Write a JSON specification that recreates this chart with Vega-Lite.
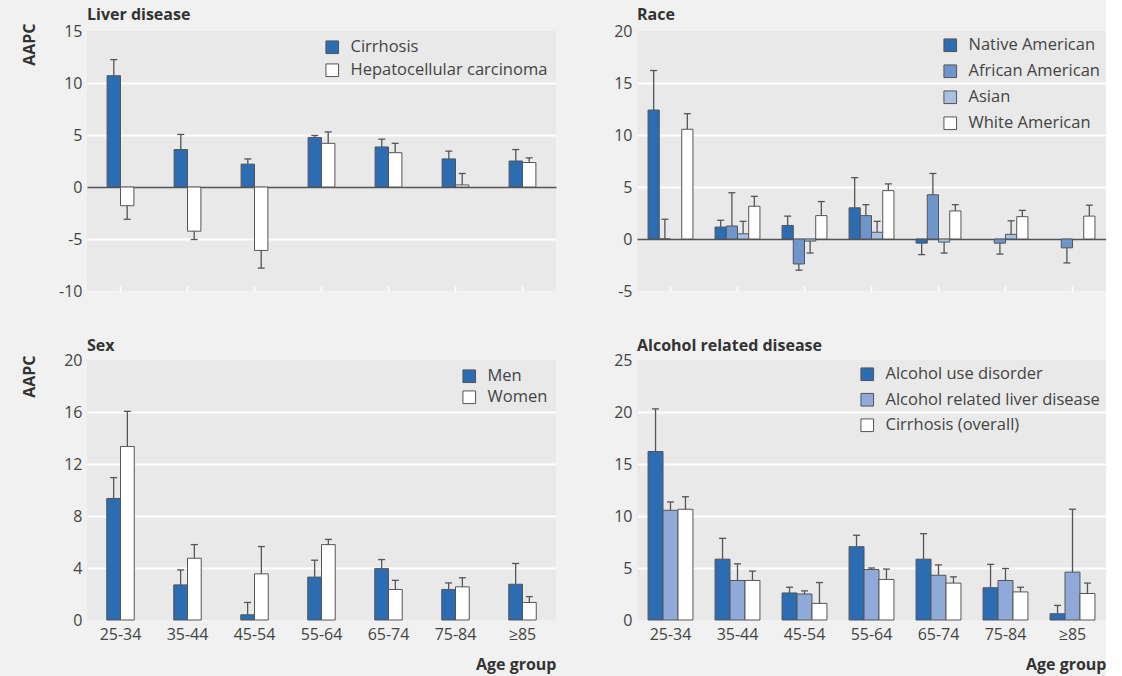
{
  "$schema": "https://vega.github.io/schema/vega-lite/v6.json",
  "padding": {"left": 21, "top": 7, "right": 0, "bottom": 4},
  "background": "#f1f1f1",
  "datasets": {
    "liver": [
      {"age": "25-34", "series": "Cirrhosis", "value": 10.7, "err": 12.25},
      {"age": "35-44", "series": "Cirrhosis", "value": 3.6, "err": 5.05},
      {"age": "45-54", "series": "Cirrhosis", "value": 2.2, "err": 2.7},
      {"age": "55-64", "series": "Cirrhosis", "value": 4.75, "err": 4.95},
      {"age": "65-74", "series": "Cirrhosis", "value": 3.85, "err": 4.6},
      {"age": "75-84", "series": "Cirrhosis", "value": 2.7, "err": 3.45},
      {"age": "≥85", "series": "Cirrhosis", "value": 2.5, "err": 3.6},
      {"age": "25-34", "series": "Hepatocellular carcinoma", "value": -1.8, "err": -3.1},
      {"age": "35-44", "series": "Hepatocellular carcinoma", "value": -4.25, "err": -5.05},
      {"age": "45-54", "series": "Hepatocellular carcinoma", "value": -6.1, "err": -7.8},
      {"age": "55-64", "series": "Hepatocellular carcinoma", "value": 4.2, "err": 5.3},
      {"age": "65-74", "series": "Hepatocellular carcinoma", "value": 3.3, "err": 4.2},
      {"age": "75-84", "series": "Hepatocellular carcinoma", "value": 0.2, "err": 1.3},
      {"age": "≥85", "series": "Hepatocellular carcinoma", "value": 2.35, "err": 2.8}
    ],
    "race": [
      {"age": "25-34", "series": "Native American", "value": 12.4, "err": 16.2},
      {"age": "35-44", "series": "Native American", "value": 1.15, "err": 1.8},
      {"age": "45-54", "series": "Native American", "value": 1.3, "err": 2.2},
      {"age": "55-64", "series": "Native American", "value": 3.0, "err": 5.9},
      {"age": "65-74", "series": "Native American", "value": -0.4, "err": -1.5},
      {"age": "25-34", "series": "African American", "value": 0, "err": 1.9},
      {"age": "35-44", "series": "African American", "value": 1.25, "err": 4.45},
      {"age": "45-54", "series": "African American", "value": -2.4, "err": -3.0},
      {"age": "55-64", "series": "African American", "value": 2.25, "err": 3.3},
      {"age": "65-74", "series": "African American", "value": 4.25, "err": 6.3},
      {"age": "75-84", "series": "African American", "value": -0.4, "err": -1.45},
      {"age": "≥85", "series": "African American", "value": -0.85, "err": -2.3},
      {"age": "35-44", "series": "Asian", "value": 0.5, "err": 1.7},
      {"age": "45-54", "series": "Asian", "value": -0.2, "err": -1.35},
      {"age": "55-64", "series": "Asian", "value": 0.65, "err": 1.7},
      {"age": "65-74", "series": "Asian", "value": -0.3, "err": -1.35},
      {"age": "75-84", "series": "Asian", "value": 0.45, "err": 1.75},
      {"age": "25-34", "series": "White American", "value": 10.55, "err": 12.05},
      {"age": "35-44", "series": "White American", "value": 3.15, "err": 4.1},
      {"age": "45-54", "series": "White American", "value": 2.25, "err": 3.6},
      {"age": "55-64", "series": "White American", "value": 4.65, "err": 5.3},
      {"age": "65-74", "series": "White American", "value": 2.7, "err": 3.3},
      {"age": "75-84", "series": "White American", "value": 2.15, "err": 2.75},
      {"age": "≥85", "series": "White American", "value": 2.2, "err": 3.25}
    ],
    "sex": [
      {"age": "25-34", "series": "Men", "value": 9.35, "err": 10.95},
      {"age": "35-44", "series": "Men", "value": 2.7, "err": 3.85},
      {"age": "45-54", "series": "Men", "value": 0.4, "err": 1.35},
      {"age": "55-64", "series": "Men", "value": 3.3, "err": 4.6},
      {"age": "65-74", "series": "Men", "value": 3.95, "err": 4.65},
      {"age": "75-84", "series": "Men", "value": 2.35, "err": 2.85},
      {"age": "≥85", "series": "Men", "value": 2.75, "err": 4.35},
      {"age": "25-34", "series": "Women", "value": 13.35, "err": 16.05},
      {"age": "35-44", "series": "Women", "value": 4.75, "err": 5.8},
      {"age": "45-54", "series": "Women", "value": 3.55, "err": 5.65},
      {"age": "55-64", "series": "Women", "value": 5.8, "err": 6.2},
      {"age": "65-74", "series": "Women", "value": 2.35, "err": 3.05},
      {"age": "75-84", "series": "Women", "value": 2.55, "err": 3.25},
      {"age": "≥85", "series": "Women", "value": 1.35, "err": 1.8}
    ],
    "alcohol": [
      {"age": "25-34", "series": "Alcohol use disorder", "value": 16.2, "err": 20.3},
      {"age": "35-44", "series": "Alcohol use disorder", "value": 5.85, "err": 7.85},
      {"age": "45-54", "series": "Alcohol use disorder", "value": 2.6, "err": 3.15},
      {"age": "55-64", "series": "Alcohol use disorder", "value": 7.05, "err": 8.15},
      {"age": "65-74", "series": "Alcohol use disorder", "value": 5.85, "err": 8.3},
      {"age": "75-84", "series": "Alcohol use disorder", "value": 3.1, "err": 5.35},
      {"age": "≥85", "series": "Alcohol use disorder", "value": 0.6, "err": 1.4},
      {"age": "25-34", "series": "Alcohol related liver disease", "value": 10.55, "err": 11.35},
      {"age": "35-44", "series": "Alcohol related liver disease", "value": 3.8, "err": 5.4},
      {"age": "45-54", "series": "Alcohol related liver disease", "value": 2.5, "err": 2.8},
      {"age": "55-64", "series": "Alcohol related liver disease", "value": 4.85, "err": 5.0},
      {"age": "65-74", "series": "Alcohol related liver disease", "value": 4.3, "err": 5.3},
      {"age": "75-84", "series": "Alcohol related liver disease", "value": 3.8, "err": 4.95},
      {"age": "≥85", "series": "Alcohol related liver disease", "value": 4.6, "err": 10.65},
      {"age": "25-34", "series": "Cirrhosis (overall)", "value": 10.65, "err": 11.85},
      {"age": "35-44", "series": "Cirrhosis (overall)", "value": 3.8, "err": 4.7},
      {"age": "45-54", "series": "Cirrhosis (overall)", "value": 1.6, "err": 3.6},
      {"age": "55-64", "series": "Cirrhosis (overall)", "value": 3.9, "err": 4.9},
      {"age": "65-74", "series": "Cirrhosis (overall)", "value": 3.55, "err": 4.15},
      {"age": "75-84", "series": "Cirrhosis (overall)", "value": 2.7, "err": 3.15},
      {"age": "≥85", "series": "Cirrhosis (overall)", "value": 2.55, "err": 3.55}
    ]
  },
  "vconcat": [
    {
      "hconcat": [
        {
          "width": 469, "height": 260,
          "title": {"text": "Liver disease", "offset": 0},
          "data": {"name": "liver"},
          "encoding": {
            "x": {"field": "age", "type": "nominal", "sort": ["25-34","35-44","45-54","55-64","65-74","75-84","≥85"],
                  "scale": {"paddingInner": 0.6, "paddingOuter": 0.3},
                  "axis": {"labels": false, "title": null, "ticks": true, "tickColor": "white", "tickWidth": 1.5, "tickSize": 5, "offset": -5}},
            "xOffset": {"field": "series", "type": "nominal", "scale": {"domain": ["Cirrhosis", "Hepatocellular carcinoma"], "paddingInner": 0, "paddingOuter": 0}}
          },
          "layer": [
            {"mark": {"type": "bar", "stroke": "#555", "strokeWidth": 1},
             "encoding": {
               "y": {"field": "value", "type": "quantitative", "scale": {"domain": [-10, 15], "nice": false},
                     "axis": {"values": [-10,-5,0,5,10,15], "labelExpr": "datum.value + ''", "title": "AAPC", "titleAngle": -90, "titleX": -53, "titleY": -8, "titleAlign": "right", "titleBaseline": "alphabetic",
                              "gridOpacity": {"condition": {"test": "datum.value === 15 || datum.value === -10", "value": 0}, "value": 1},
                              "gridColor": {"condition": {"test": "datum.value === 0", "value": "#555"}, "value": "white"},
                              "gridWidth": {"condition": {"test": "datum.value === 0", "value": 1.3}, "value": 2}}},
               "color": {"field": "series", "type": "nominal", "scale": {"domain": ["Cirrhosis", "Hepatocellular carcinoma"], "range": ["#2b6cb2", "#ffffff"]},
                         "legend": {"orient": "top-right", "offset": 8, "rowPadding": 5}}
             }},
            {"mark": {"type": "rule", "color": "#555", "strokeWidth": 1.3},
             "encoding": {"y": {"field": "value", "type": "quantitative"}, "y2": {"field": "err"}}},
            {"mark": {"type": "point", "shape": "M-1,0H1", "size": 49, "filled": false, "stroke": "#555", "strokeWidth": 1.3, "opacity": 1},
             "encoding": {"y": {"field": "err", "type": "quantitative"}}}
          ]
        },
        {
          "width": 469, "height": 260,
          "title": {"text": "Race", "offset": 0},
          "data": {"name": "race"},
          "encoding": {
            "x": {"field": "age", "type": "nominal", "sort": ["25-34","35-44","45-54","55-64","65-74","75-84","≥85"],
                  "scale": {"paddingInner": 0.33, "paddingOuter": 0.165},
                  "axis": {"labels": false, "title": null, "ticks": true, "tickColor": "white", "tickWidth": 1.5, "tickSize": 5, "offset": -5}},
            "xOffset": {"field": "series", "type": "nominal", "scale": {"domain": ["Native American", "African American", "Asian", "White American"], "paddingInner": 0, "paddingOuter": 0}}
          },
          "layer": [
            {"mark": {"type": "bar", "stroke": "#555", "strokeWidth": 1},
             "encoding": {
               "y": {"field": "value", "type": "quantitative", "scale": {"domain": [-5, 20], "nice": false},
                     "axis": {"values": [-5,0,5,10,15,20], "labelExpr": "datum.value + ''", "title": null,
                              "gridOpacity": {"condition": {"test": "datum.value === 20 || datum.value === -5", "value": 0}, "value": 1},
                              "gridColor": {"condition": {"test": "datum.value === 0", "value": "#555"}, "value": "white"},
                              "gridWidth": {"condition": {"test": "datum.value === 0", "value": 1.3}, "value": 2}}},
               "color": {"field": "series", "type": "nominal", "scale": {"domain": ["Native American", "African American", "Asian", "White American"], "range": ["#2b6cb2", "#6e96cd", "#a9c0e5", "#ffffff"]},
                         "legend": {"orient": "top-right", "offset": 6, "rowPadding": 8}}
             }},
            {"mark": {"type": "rule", "color": "#555", "strokeWidth": 1.3},
             "encoding": {"y": {"field": "value", "type": "quantitative"}, "y2": {"field": "err"}}},
            {"mark": {"type": "point", "shape": "M-1,0H1", "size": 49, "filled": false, "stroke": "#555", "strokeWidth": 1.3, "opacity": 1},
             "encoding": {"y": {"field": "err", "type": "quantitative"}}}
          ]
        }
      ],
      "spacing": 57,
      "resolve": {"scale": {"color": "independent", "x": "independent", "y": "independent", "xOffset": "independent"}, "legend": {"color": "independent"}}
    },
    {
      "hconcat": [
        {
          "width": 469, "height": 260,
          "title": {"text": "Sex", "offset": -2},
          "data": {"name": "sex"},
          "encoding": {
            "x": {"field": "age", "type": "nominal", "sort": ["25-34","35-44","45-54","55-64","65-74","75-84","≥85"],
                  "scale": {"paddingInner": 0.59, "paddingOuter": 0.295},
                  "axis": {"labelAngle": 0, "labelPadding": 6, "ticks": false, "title": "Age group", "titleAnchor": "end", "titleAlign": "right", "titlePadding": 14}},
            "xOffset": {"field": "series", "type": "nominal", "scale": {"domain": ["Men", "Women"], "paddingInner": 0, "paddingOuter": 0}}
          },
          "layer": [
            {"mark": {"type": "bar", "stroke": "#555", "strokeWidth": 1},
             "encoding": {
               "y": {"field": "value", "type": "quantitative", "scale": {"domain": [0, 20], "nice": false},
                     "axis": {"values": [0,4,8,12,16,20], "title": "AAPC", "titleAngle": -90, "titleX": -53, "titleY": -5, "titleAlign": "right", "titleBaseline": "alphabetic",
                              "gridOpacity": {"condition": {"test": "datum.value === 20 || datum.value === 0", "value": 0}, "value": 1},
                              "gridColor": "white", "gridWidth": 2}},
               "color": {"field": "series", "type": "nominal", "scale": {"domain": ["Men", "Women"], "range": ["#2b6cb2", "#ffffff"]},
                         "legend": {"orient": "top-right", "offset": 8, "rowPadding": 3}}
             }},
            {"mark": {"type": "rule", "color": "#555", "strokeWidth": 1.3},
             "encoding": {"y": {"field": "value", "type": "quantitative"}, "y2": {"field": "err"}}},
            {"mark": {"type": "point", "shape": "M-1,0H1", "size": 49, "filled": false, "stroke": "#555", "strokeWidth": 1.3, "opacity": 1},
             "encoding": {"y": {"field": "err", "type": "quantitative"}}}
          ]
        },
        {
          "width": 469, "height": 260,
          "title": {"text": "Alcohol related disease", "offset": -2},
          "data": {"name": "alcohol"},
          "encoding": {
            "x": {"field": "age", "type": "nominal", "sort": ["25-34","35-44","45-54","55-64","65-74","75-84","≥85"],
                  "scale": {"paddingInner": 0.33, "paddingOuter": 0.165},
                  "axis": {"labelAngle": 0, "labelPadding": 6, "ticks": false, "title": "Age group", "titleAnchor": "end", "titleAlign": "right", "titlePadding": 14}},
            "xOffset": {"field": "series", "type": "nominal", "scale": {"domain": ["Alcohol use disorder", "Alcohol related liver disease", "Cirrhosis (overall)"], "paddingInner": 0, "paddingOuter": 0}}
          },
          "layer": [
            {"mark": {"type": "bar", "stroke": "#555", "strokeWidth": 1},
             "encoding": {
               "y": {"field": "value", "type": "quantitative", "scale": {"domain": [0, 25], "nice": false},
                     "axis": {"values": [0,5,10,15,20,25], "title": null,
                              "gridOpacity": {"condition": {"test": "datum.value === 25 || datum.value === 0", "value": 0}, "value": 1},
                              "gridColor": "white", "gridWidth": 2}},
               "color": {"field": "series", "type": "nominal", "scale": {"domain": ["Alcohol use disorder", "Alcohol related liver disease", "Cirrhosis (overall)"], "range": ["#2b6cb2", "#8fa9d8", "#ffffff"]},
                         "legend": {"orient": "top-right", "offset": 6, "rowPadding": 7.5}}
             }},
            {"mark": {"type": "rule", "color": "#555", "strokeWidth": 1.3},
             "encoding": {"y": {"field": "value", "type": "quantitative"}, "y2": {"field": "err"}}},
            {"mark": {"type": "point", "shape": "M-1,0H1", "size": 49, "filled": false, "stroke": "#555", "strokeWidth": 1.3, "opacity": 1},
             "encoding": {"y": {"field": "err", "type": "quantitative"}}}
          ]
        }
      ],
      "spacing": 57,
      "resolve": {"scale": {"color": "independent", "x": "independent", "y": "independent", "xOffset": "independent"}, "legend": {"color": "independent"}}
    }
  ],
  "spacing": 39,
  "resolve": {"scale": {"color": "independent", "x": "independent", "y": "independent", "xOffset": "independent"}, "legend": {"color": "independent"}},
  "config": {
    "view": {"fill": "#e9e9e9", "stroke": null},
    "font": "Open Sans",
    "axis": {"domain": false, "ticks": false, "labelFont": "Open Sans", "labelFontSize": 16, "labelColor": "#444", "labelPadding": 5,
             "titleFont": "Open Sans", "titleFontSize": 16, "titleFontWeight": "bold", "titleColor": "#333"},
    "legend": {"title": null, "symbolType": "square", "symbolSize": 160, "symbolStrokeColor": "#555", "symbolStrokeWidth": 1, "symbolOpacity": 1,
               "labelFont": "Open Sans", "labelFontSize": 16.5, "labelColor": "#444", "labelOffset": 10, "labelLimit": 0, "padding": 0},
    "title": {"anchor": "start", "frame": "group", "font": "Open Sans", "fontSize": 16, "fontWeight": "bold", "color": "#333"}
  }
}
